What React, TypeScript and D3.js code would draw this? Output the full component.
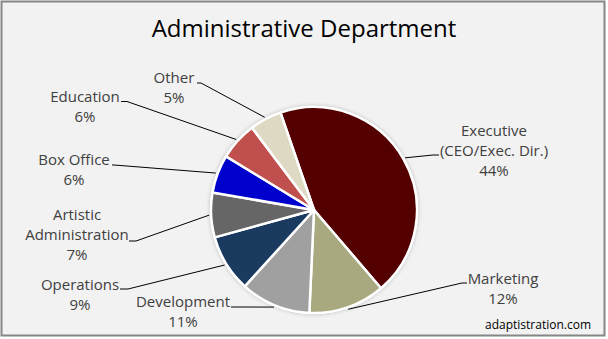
import React from "react";
import * as d3 from "d3";

const categories = ["Executive", "Marketing", "Development", "Operations", "Artistic Administration", "Box Office", "Education", "Other"];
const values = [44, 12, 11, 9, 7, 6, 6, 5];
const colors = ["#540000", "#A8A97F", "#A0A0A0", "#1A3A60", "#666666", "#0000CC", "#C0504D", "#DDD9C3"];
const labelLines = [
  ["Executive", "(CEO/Exec. Dir.)", "44%"],
  ["Marketing", "12%"],
  ["Development", "11%"],
  ["Operations", "9%"],
  ["Artistic", "Administration", "7%"],
  ["Box Office", "6%"],
  ["Education", "6%"],
  ["Other", "5%"],
];

const W = 608, H = 339;
const cx = 314, cy = 210, R = 103;
const startDeg = -19;

const labelPos = [
  { x: 494, y: 136, lx: 439, ly: 155, hx: 433 },
  { x: 503, y: 284, lx: 467, ly: 283, hx: 462 },
  { x: 183, y: 307, lx: 231, ly: 307, hx: 236 },
  { x: 80, y: 290, lx: 120, ly: 289, hx: 128 },
  { x: 77, y: 220, lx: 129, ly: 241, hx: 136 },
  { x: 74, y: 165, lx: 112, ly: 165, hx: 114 },
  { x: 85, y: 102, lx: 121, ly: 101.5, hx: 127 },
  { x: 174, y: 83, lx: 197, ly: 83, hx: 201 },
];

export default function App() {
  const pie = d3
    .pie<number>()
    .sort(null)
    .value((d) => d)
    .startAngle((startDeg * Math.PI) / 180)
    .endAngle(((startDeg + 360) * Math.PI) / 180);
  const arcs = pie(values);
  const arc = d3.arc<d3.PieArcDatum<number>>().innerRadius(0).outerRadius(R);
  const edge = d3.arc<d3.PieArcDatum<number>>().innerRadius(R * 2 + 4).outerRadius(0);

  return (
    <svg width={W} height={H} style={{ position: "absolute", left: 0, top: 0 }} fontFamily="'Open Sans', sans-serif">
      <defs>
        <filter id="sh" x="-20%" y="-20%" width="140%" height="140%">
          <feDropShadow dx="0" dy="0" stdDeviation="2" floodColor="#000" floodOpacity="0.25" />
        </filter>
      </defs>
      <rect x={0} y={0} width={W} height={H} fill="#fff" />
      <rect x={1.5} y={1.5} width={603} height={334} fill="#F2F2F2" stroke="#868686" strokeWidth={2} />
      <text x={304} y={37} textAnchor="middle" fontSize={24} fill="#000">
        Administrative Department
      </text>
      <g transform={`translate(${cx},${cy})`}>
        <circle r={R + 1} fill="#fff" filter="url(#sh)" />
        {arcs.map((a, i) => (
          <path key={categories[i]} d={arc(a) || ""} fill={colors[i]} stroke="#fff" strokeWidth={2.5} strokeLinejoin="round" />
        ))}
      </g>
      {arcs.map((a, i) => {
        const p = labelPos[i];
        const c = edge.centroid(a);
        const tx = c[0] + cx, ty = c[1] + cy;
        return (
          <g key={"l" + i}>
            <polyline
              points={`${p.lx},${p.ly} ${p.hx},${p.ly} ${tx},${ty}`}
              fill="none"
              stroke="#000"
              strokeWidth={1}
            />
            <text textAnchor="middle" fontSize={15} fill="#404040">
              {labelLines[i].map((t, j) => (
                <tspan key={j} x={p.x} y={p.y + j * 20}>
                  {t}
                </tspan>
              ))}
            </text>
          </g>
        );
      })}
      <text x={538} y={329} textAnchor="middle" fontSize={12} fill="#000">
        adaptistration.com
      </text>
    </svg>
  );
}
